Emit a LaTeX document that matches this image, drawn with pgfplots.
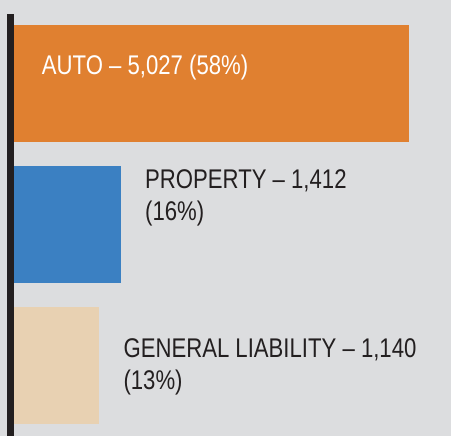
\documentclass[border=0pt]{standalone}
\usepackage{fontspec}
\setmainfont{Liberation Sans}[FakeStretch=0.82]
\usepackage{pgfplots}
\pgfplotsset{compat=1.18}
\definecolor{bgc}{RGB}{220,221,223}
\definecolor{autoc}{RGB}{224,128,48}
\definecolor{propc}{RGB}{59,128,194}
\definecolor{glc}{RGB}{232,209,178}
\definecolor{ink}{RGB}{35,31,32}
\begin{document}
\begin{tikzpicture}
\begin{axis}[
    width=451pt, height=436pt,
    scale only axis,
    xbar, bar width=117pt, bar shift=0pt,
    xmin=-106.7, xmax=5554,
    ymin=0.5, ymax=3.5922,
    ticks=none,
    axis line style={draw=none},
    axis background/.style={fill=bgc},
    clip=false,
    nodes near coords,
    every node near coord/.append style={inner sep=0pt, align=left,
        font=\fontsize{27}{32}\selectfont},
]
  % AUTO, label inside the bar
  \addplot[draw=none, fill=autoc,
    nodes near coords={AUTO -- 5,027 (58\%)},
    every node near coord/.append style={anchor=base west, text=white,
        xshift=-367.3pt, yshift=8.5pt}]
    coordinates {(5027,3)};
  % PROPERTY
  \addplot[draw=none, fill=propc,
    nodes near coords={PROPERTY -- 1,412\\(16\%)},
    every node near coord/.append style={anchor=north west, text=ink,
        xshift=24pt, yshift=55.2pt}]
    coordinates {(1412,2)};
  % GENERAL LIABILITY
  \addplot[draw=none, fill=glc,
    nodes near coords={GENERAL LIABILITY -- 1,140\\(13\%)},
    every node near coord/.append style={anchor=north west, text=ink,
        xshift=24pt, yshift=27.5pt}]
    coordinates {(1140,1)};
  \draw[line width=7pt, ink] (axis cs:25,0.5) -- (axis cs:25,3.493);
\end{axis}
\end{tikzpicture}
\end{document}
